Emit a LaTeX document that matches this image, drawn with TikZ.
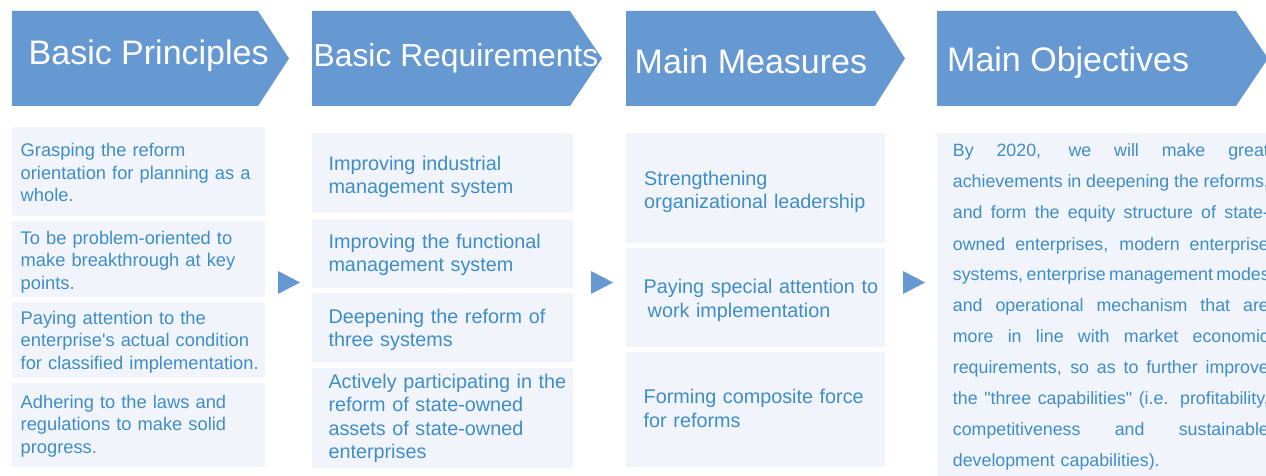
\documentclass[tikz,border=0pt]{standalone}
\usepackage{fontspec}
\setmainfont{Liberation Sans}[Ligatures=TeXOff]
\definecolor{hdr}{RGB}{102,153,210}
\definecolor{boxbg}{RGB}{241,245,251}
\definecolor{txt}{RGB}{62,140,200}
\tikzset{
  hdrshape/.style={fill=hdr, draw=none},
  hdrtext/.style={text=white, inner sep=0pt, anchor=base west},
  panel/.style={fill=boxbg, draw=none, inner sep=0pt, anchor=north west},
  bodytext/.style={text=txt, inner sep=0pt, anchor=base west, align=left, text width=#1},
  bodytext/.default=300pt,
  tri/.style={fill=hdr, draw=none}
}
\newcommand{\colA}{\fontsize{18.3}{22.5}\selectfont}
\newcommand{\colB}{\fontsize{19.8}{23.5}\selectfont}
\newcommand{\colC}{\fontsize{19.8}{24}\selectfont}
\newcommand{\colD}{\fontsize{17.8}{31}\selectfont}
\newcommand{\jl}[1]{{\spaceskip=0pt\xspaceskip=0pt\makebox[316pt][s]{#1}}}
\begin{document}
\begin{tikzpicture}[x=1pt,y=-1pt]
\useasboundingbox (0,0) rectangle (1266,476);
\clip (0,0) rectangle (1266,476);
% headers
\path[hdrshape] (12,11) -- (258,11) -- (289,58.5) -- (258,106) -- (12,106) -- cycle;
\path[hdrshape] (312,11) -- (570,11) -- (602,58.5) -- (570,106) -- (312,106) -- cycle;
\path[hdrshape] (626,11) -- (875,11) -- (905,58.5) -- (875,106) -- (626,106) -- cycle;
\path[hdrshape] (937,11) -- (1236,11) -- (1268,58.5) -- (1236,106) -- (937,106) -- cycle;
\node[hdrtext, font=\fontsize{34}{40}\selectfont] (h1) at (28.5,65) {Basic Principles};
\node[hdrtext, font=\fontsize{31.8}{38}\selectfont] (h2) at (313.5,67) {Basic Requirements};
\node[hdrtext, font=\fontsize{34}{40}\selectfont] (h3) at (634.5,74) {Main Measures};
\node[hdrtext, font=\fontsize{34}{40}\selectfont] (h4) at (947,72) {Main Objectives};
% column 1
\node[panel, minimum width=253pt, minimum height=89pt] (p11) at (12,127) {};
\node[panel, minimum width=253pt, minimum height=76pt] (p12) at (12,221) {};
\node[panel, minimum width=253pt, minimum height=76pt] (p13) at (12,302) {};
\node[panel, minimum width=253pt, minimum height=84pt] (p14) at (12,383) {};
\node[bodytext, font=\colA] (t11) at (20.5,157) {Grasping the reform\\orientation for planning as a\\whole.};
\node[bodytext, font=\colA] (t12) at (20.5,244) {To be problem-oriented to\\make breakthrough at key\\points.};
\node[bodytext, font=\colA] (t13) at (20.5,324) {Paying attention to the\\enterprise's actual condition\\for classified implementation.};
\node[bodytext, font=\colA] (t14) at (20.5,408) {Adhering to the laws and\\regulations to make solid\\progress.};
% column 2
\node[panel, minimum width=261pt, minimum height=80pt] (p21) at (312,133) {};
\node[panel, minimum width=261pt, minimum height=69pt] (p22) at (312,219) {};
\node[panel, minimum width=261pt, minimum height=69pt] (p23) at (312,293) {};
\node[panel, minimum width=261pt, minimum height=100pt] (p24) at (312,368) {};
\node[bodytext, font=\colB] (t21) at (328.3,170) {Improving industrial\\management system};
\node[bodytext, font=\colB] (t22) at (328.3,248) {Improving the functional\\management system};
\node[bodytext, font=\colB] (t23) at (328.3,323) {Deepening the reform of\\three systems};
\node[bodytext, font=\colB] (t24) at (328.3,388) {Actively participating in the\\reform of state-owned\\assets of state-owned\\enterprises};
% column 3
\node[panel, minimum width=259pt, minimum height=110pt] (p31) at (626,133) {};
\node[panel, minimum width=259pt, minimum height=99pt] (p32) at (626,248) {};
\node[panel, minimum width=259pt, minimum height=115pt] (p33) at (626,352) {};
\node[bodytext, font=\colC] (t31) at (644,185) {Strengthening\\organizational leadership};
\node[bodytext, font=\colC] (t32) at (643.5,293) {Paying special attention to\\\hspace*{4pt}work implementation};
\node[bodytext, font=\colC] (t33) at (643.5,403) {Forming composite force\\for reforms};
% column 4
\node[panel, minimum width=360pt, minimum height=360pt] (p41) at (937,133) {};
\node[bodytext=340pt, font=\colD] (t41) at (952.7,157) {\jl{By 2020, we will make great}\\
\jl{achievements in deepening the reforms,}\\
\jl{and form the equity structure of state-}\\
\jl{owned enterprises, modern enterprise}\\
\jl{systems, enterprise management modes}\\
\jl{and operational mechanism that are}\\
\jl{more in line with market economic}\\
\jl{requirements, so as to further improve}\\
\jl{the "three capabilities" (i.e. profitability,}\\
\jl{competitiveness and sustainable}\\
development capabilities).};
% arrows between columns
\path[tri] (278,271) -- (300,282.5) -- (278,294) -- cycle;
\path[tri] (591,271) -- (613,282.5) -- (591,294) -- cycle;
\path[tri] (903,271) -- (925,282.5) -- (903,294) -- cycle;
\end{tikzpicture}
\end{document}
